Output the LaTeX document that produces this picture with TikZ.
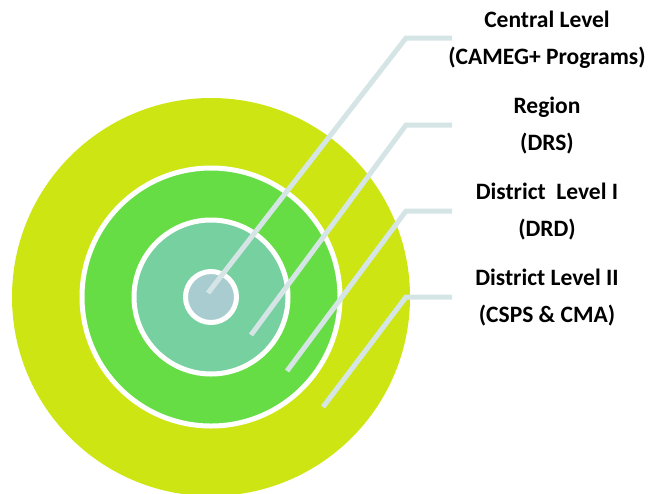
\documentclass[tikz,border=0pt]{standalone}
\usepackage{fontspec}
\setmainfont{Carlito}
\usepackage{tikz}
\usetikzlibrary{positioning}
\definecolor{lvlouter}{RGB}{205,229,18}
\definecolor{lvlgreen}{RGB}{102,221,68}
\definecolor{lvlmint}{RGB}{119,208,160}
\definecolor{lvlcore}{RGB}{168,204,208}
\definecolor{lvlline}{RGB}{213,229,229}
\tikzstyle{ring} = [circle, inner sep=0pt, outer sep=0pt, draw=white, line width=5pt]
\tikzstyle{leader} = [line width=5pt, color=lvlline]
\tikzstyle{levellabel} = [font=\fontsize{23.5}{37}\selectfont\bfseries, align=center, inner sep=0pt]

\begin{document}
\begin{tikzpicture}[x=1pt, y=-1pt]
\useasboundingbox (0,0) rectangle (652,493);
% Nested levels
\begin{scope}
\clip (0,0) rectangle (652,493);
\node[circle, inner sep=0pt, fill=lvlouter, minimum size=398pt] (district2) at (211,297) {};
\end{scope}
\node[ring, fill=lvlgreen, minimum size=258pt] (district1) at (211,297) {};
\node[ring, fill=lvlmint, minimum size=154pt] (region) at (211,297) {};
\node[ring, fill=lvlcore, minimum size=51pt] (central) at (211,297) {};

% Labels
\node[levellabel] (centrallbl) at (547,40) {Central Level\\(CAMEG+ Programs)};
\node[levellabel] (regionlbl) at (547,126) {Region\\(DRS)};
\node[levellabel] (district1lbl) at (547,212) {District\ \ Level I\\(DRD)};
\node[levellabel] (district2lbl) at (547,298) {District Level II\\(CSPS \& CMA)};

% Leader lines
\coordinate (centraltip) at (208,293);
\coordinate (regiontip) at (251,335);
\coordinate (district1tip) at (287,371);
\coordinate (district2tip) at (323,407);
\coordinate (centralbend) at (406,38);
\coordinate (regionbend) at (406,125);
\coordinate (district1bend) at (406,211);
\coordinate (district2bend) at (406,297);
\coordinate (centralend) at (452,38);
\coordinate (regionend) at (452,125);
\coordinate (district1end) at (452,211);
\coordinate (district2end) at (452,297);
\draw[leader] (centraltip) -- (centralbend) -- (centralend);
\draw[leader] (regiontip) -- (regionbend) -- (regionend);
\draw[leader] (district1tip) -- (district1bend) -- (district1end);
\draw[leader] (district2tip) -- (district2bend) -- (district2end);
\end{tikzpicture}
\end{document}
